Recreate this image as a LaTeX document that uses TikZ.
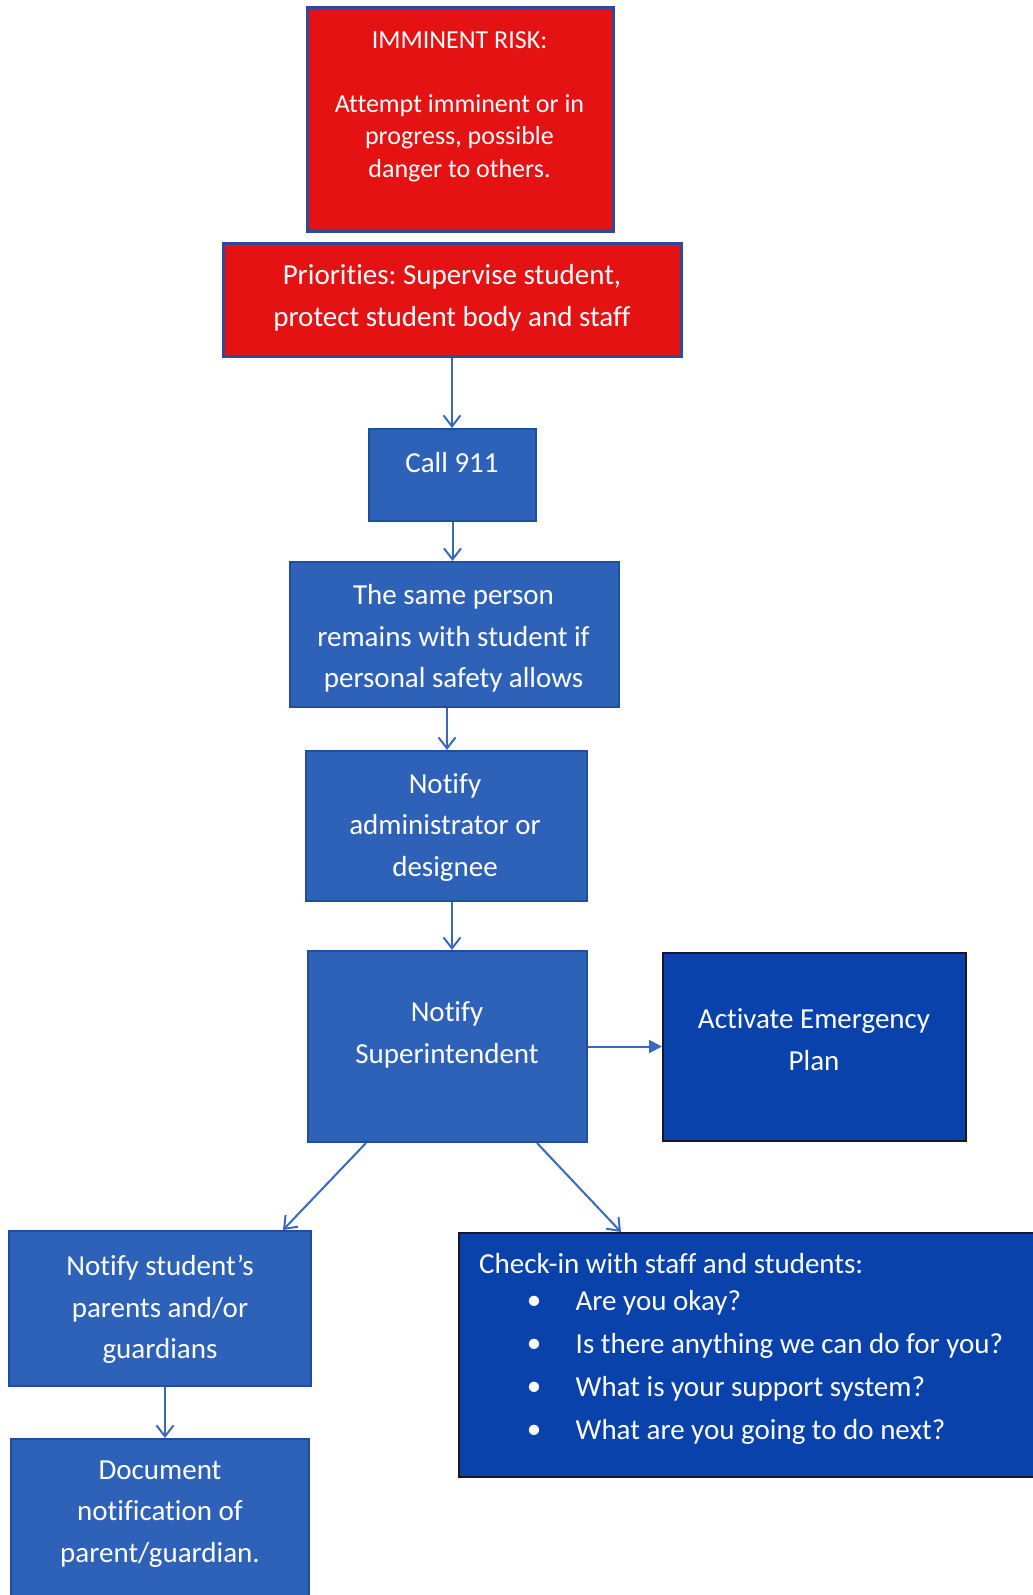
\documentclass[tikz,border=0pt]{standalone}
\usepackage{fontspec}
\setmainfont{Carlito}[RawFeature={-liga;-clig;-dlig}]
\frenchspacing
\usetikzlibrary{arrows.meta}
\definecolor{riskred}{HTML}{E41212}
\definecolor{redborder}{HTML}{2B4A9A}
\definecolor{stepblue}{HTML}{2E62B8}
\definecolor{stepborder}{HTML}{1F4E9A}
\definecolor{deepblue}{HTML}{0842AA}
\definecolor{deepborder}{HTML}{15182A}
\definecolor{arrowblue}{HTML}{3A68BC}
\tikzset{
  x=1pt, y=-1pt,
  redbox/.style={draw=redborder, line width=3pt, fill=riskred, rectangle, inner sep=0pt},
  bluebox/.style={draw=stepborder, line width=2pt, fill=stepblue, rectangle, inner sep=0pt},
  deepbox/.style={draw=deepborder, line width=2pt, fill=deepblue, rectangle, inner sep=0pt},
  txt/.style={text=white, align=center, inner sep=0pt, font=\fontsize{29}{41.7}\selectfont},
  smalltxt/.style={text=white, align=center, inner sep=0pt, font=\fontsize{26}{32.5}\selectfont},
  flow/.style={draw=arrowblue, line width=2pt, -{Straight Barb[length=11pt,width=17pt]}},
  flowfill/.style={draw=arrowblue, line width=2pt, -{Triangle[length=13pt,width=13pt]}},
}
\begin{document}
\begin{tikzpicture}
\useasboundingbox (0,0) rectangle (1033,1595);
\clip (0,0) rectangle (1033,1595);
\fill[white] (0,0) rectangle (1033,1595);

% boxes
\node[redbox, minimum width=306pt, minimum height=223pt] (risk) at (460,119.5) {};
\node[redbox, minimum width=458pt, minimum height=113pt] (prio) at (452,299.5) {};
\node[bluebox, minimum width=167pt, minimum height=92pt] (call) at (452.5,475) {};
\node[bluebox, minimum width=329pt, minimum height=145pt] (same) at (454.5,634.5) {};
\node[bluebox, minimum width=281pt, minimum height=150pt] (admin) at (446.5,826) {};
\node[bluebox, minimum width=279pt, minimum height=191pt] (super) at (447.5,1046.5) {};
\node[deepbox, minimum width=303pt, minimum height=188pt] (plan) at (814.5,1047) {};
\node[bluebox, minimum width=302pt, minimum height=155pt] (parents) at (160,1308.5) {};
\node[deepbox, minimum width=600pt, minimum height=244pt] (check) at (759,1355) {};
\node[bluebox, minimum width=298pt, minimum height=200pt] (doc) at (160,1539) {};

% texts
\node[smalltxt] (riskhead) at (459.5,40) {IMMINENT RISK:};
\node[smalltxt] (risktext) at (459.5,138) {Attempt imminent or in\\progress, possible\\danger to others.};
\node[txt] (priotext) at (452,298) {Priorities: Supervise student,\\protect student body and staff};
\node[txt] (calltext) at (452,462.5) {Call 911};
\node[txt] (sametext) at (453.5,638.5) {The same person\\remains with student if\\personal safety allows};
\node[txt] (admintext) at (445,827.5) {Notify\\administrator or\\designee};
\node[txt] (supertext) at (447,1034.5) {Notify\\Superintendent};
\node[txt] (plantext) at (814,1039.5) {Activate Emergency\\Plan};
\node[txt] (parentstext) at (160,1309.5) {Notify student’s\\parents and/or\\guardians};
\node[txt] (doctext) at (160,1514) {Document\\notification of\\parent/guardian.};
\node[txt, anchor=west] (checkhead) at (479,1263.5) {Check-in with staff and students:};
\foreach \i/\yy/\q in {1/1303/{Are you okay?},2/1345.5/{Is there anything we can do for you?},3/1389/{What is your support system?},4/1431.5/{What are you going to do next?}}{
  \node[txt] (bullet\i) at (534,\yy) {•};
  \node[txt, anchor=west] (item\i) at (575.5,\yy) {\q};
}

% connectors
\draw[flow] (prio.south) -- (prio.south |- call.north);
\draw[flow] (call.south) -- (call.south |- same.north);
\draw[flow] ([xshift=-7.5pt]same.south) -- ([xshift=-7.5pt]same.south |- admin.north);
\draw[flow] ([xshift=5.5pt]admin.south) -- ([xshift=5.5pt]admin.south |- super.north);
\draw[flowfill] (super.east) -- (super.east -| plan.west);
\draw[flow] ([xshift=59pt]super.south west) -- ([xshift=-29pt]parents.north east);
\draw[flow] ([xshift=-51pt]super.south east) -- ([xshift=163pt]check.north west);
\draw[flow] ([xshift=5pt]parents.south) -- ([xshift=5pt]parents.south |- doc.north);
\end{tikzpicture}
\end{document}
